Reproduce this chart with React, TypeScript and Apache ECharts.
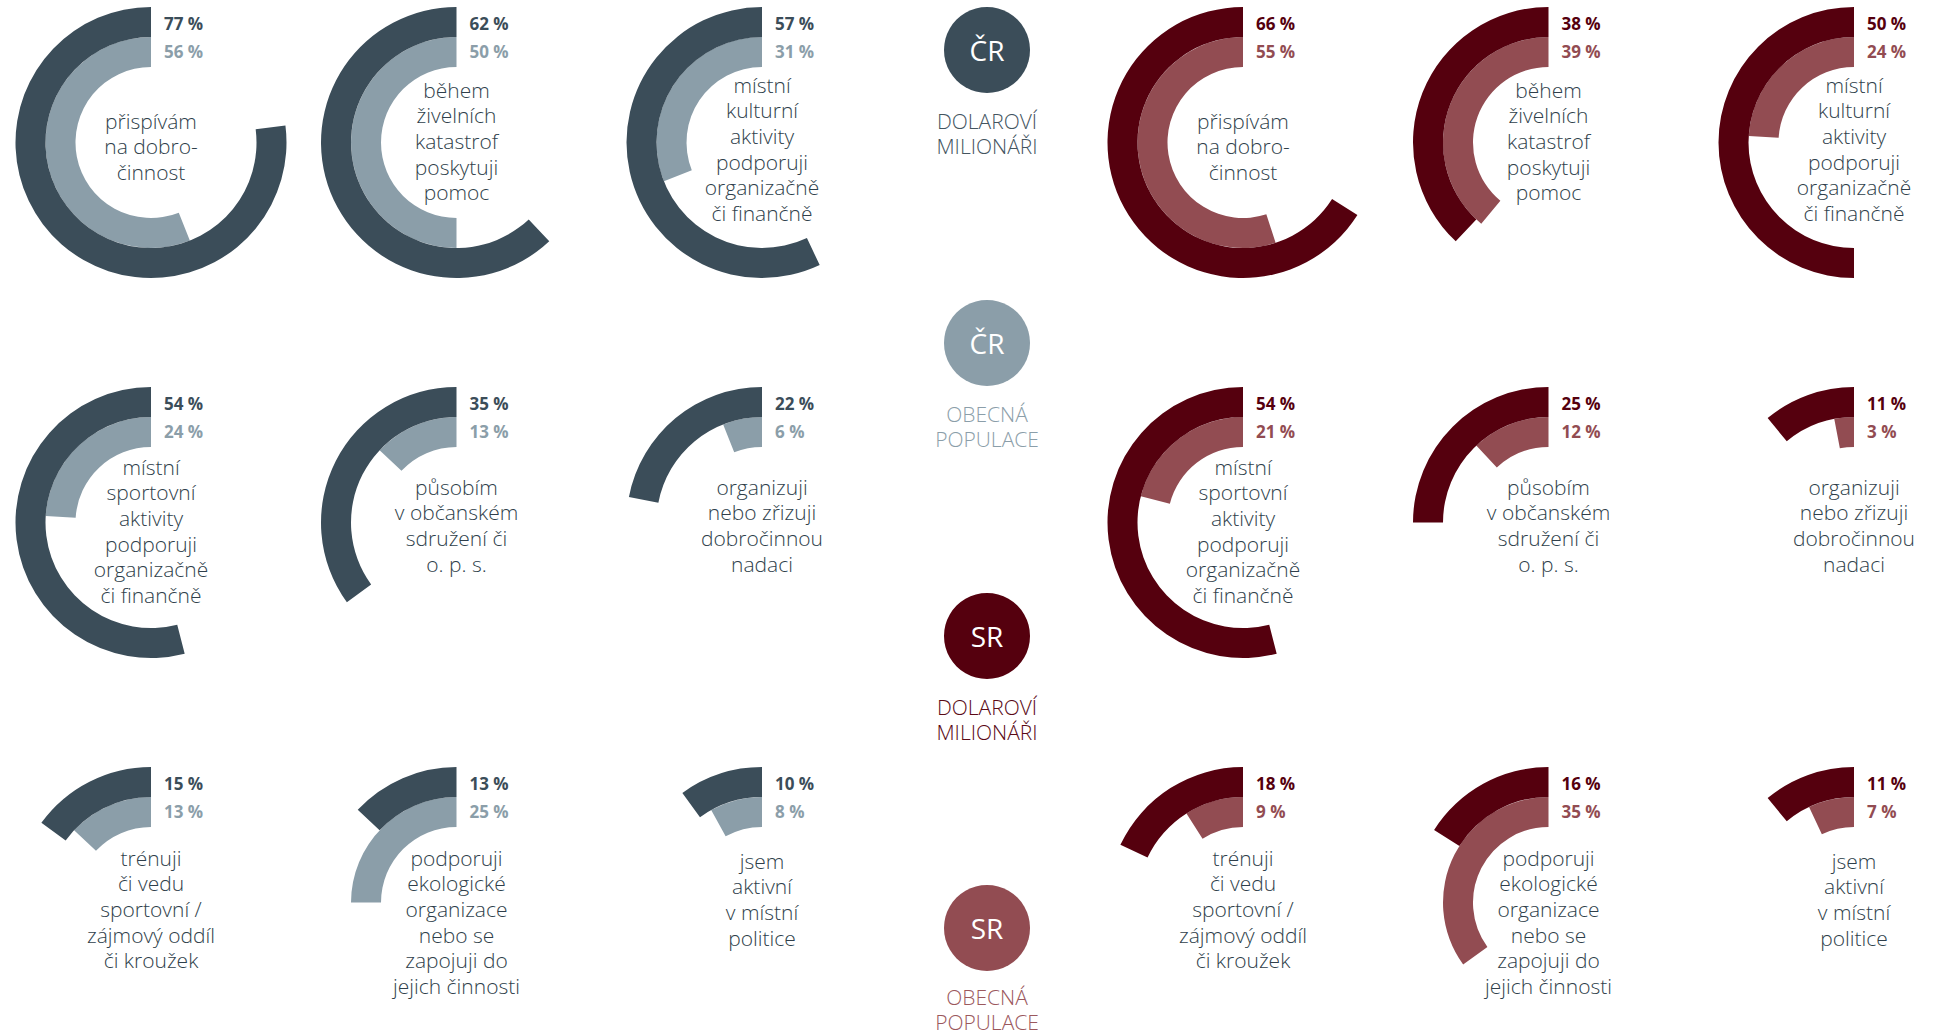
import React, { useEffect, useRef } from "react";
import * as echarts from "echarts";

// ---- data ----
const topics: string[][] = [
  ["přispívám", "na dobro-", "činnost"],
  ["během", "živelních", "katastrof", "poskytuji", "pomoc"],
  ["místní", "kulturní", "aktivity", "podporuji", "organizačně", "či finančně"],
  ["místní", "sportovní", "aktivity", "podporuji", "organizačně", "či finančně"],
  ["působím", "v občanském", "sdružení či", "o. p. s."],
  ["organizuji", "nebo zřizuji", "dobročinnou", "nadaci"],
  ["trénuji", "či vedu", "sportovní /", "zájmový oddíl", "či kroužek"],
  ["podporuji", "ekologické", "organizace", "nebo se", "zapojuji do", "jejich činnosti"],
  ["jsem", "aktivní", "v místní", "politice"],
];
const czMillionaires = [77, 62, 57, 54, 35, 22, 15, 13, 10];
const czGeneral = [56, 50, 31, 24, 13, 6, 13, 25, 8];
const skMillionaires = [66, 38, 50, 54, 25, 11, 18, 16, 11];
const skGeneral = [55, 39, 24, 21, 12, 3, 9, 35, 7];
const ringCategories = ["obecná populace", "dolaroví milionáři"];
const legendCodes = ["ČR", "ČR", "SR", "SR"];
const legendNames = [
  ["DOLAROVÍ", "MILIONÁŘI"],
  ["OBECNÁ", "POPULACE"],
  ["DOLAROVÍ", "MILIONÁŘI"],
  ["OBECNÁ", "POPULACE"],
];

// ---- layout / style ----
const W = 1937;
const H = 1036;
const leftX = [151, 456.5, 762];
const rightX = [1243, 1548.5, 1854];
const rowY = [142.5, 522.5, 902.5];
const R_IN = 75.5;
const R_OUT = 135.5;
const firstLineOffset = [-22, -53, -58, -56, -36, -36, -45, -45, -42];
const LINE_H = 25.7;
const CZ = { dark: "#3b4d59", light: "#8b9ea9" };
const SK = { dark: "#55000e", light: "#924c52" };
const legendFill = ["#3b4d59", "#8b9ea9", "#55000e", "#924c52"];
const legendText = ["#44555f", "#8b9ea9", "#5a0a16", "#9b585d"];
const legendX = 987;
const legendY = [50, 343, 636, 928];
const legendNameTop = [71, 71, 71, 69];
const legendNameGap = 25;
const TEXT_COLOR = "#2f3f4b";
const FONT = '"Open Sans", "Noto Sans", sans-serif';

export default function App() {
  const ref = useRef<HTMLDivElement>(null);
  useEffect(() => {
    document.body.style.margin = "0";
    document.body.style.overflow = "hidden";
    const chart = echarts.init(ref.current!, null, { renderer: "svg" });

    const polar: any[] = [];
    const angleAxis: any[] = [];
    const radiusAxis: any[] = [];
    const series: any[] = [];
    const graphic: any[] = [];

    const sides = [
      { xs: leftX, mil: czMillionaires, gen: czGeneral, col: CZ },
      { xs: rightX, mil: skMillionaires, gen: skGeneral, col: SK },
    ];
    sides.forEach((side) => {
      topics.forEach((lines, i) => {
        const cx = side.xs[i % 3];
        const cy = rowY[Math.floor(i / 3)];
        const idx = polar.length;
        polar.push({ center: [cx, cy], radius: [R_IN, R_OUT] });
        angleAxis.push({
          polarIndex: idx,
          type: "value",
          min: 0,
          max: 100,
          startAngle: 90,
          clockwise: false,
          show: false,
        });
        radiusAxis.push({
          polarIndex: idx,
          type: "category",
          data: ringCategories,
          show: false,
        });
        series.push({
          type: "bar",
          coordinateSystem: "polar",
          polarIndex: idx,
          barCategoryGap: "0%",
          silent: true,
          data: [
            { value: side.gen[i], itemStyle: { color: side.col.light } },
            { value: side.mil[i], itemStyle: { color: side.col.dark } },
          ],
        });
        // percentage labels
        graphic.push({
          type: "text",
          x: cx + 13,
          y: cy - 119,
          style: {
            text: side.mil[i] + " %",
            fill: side.col.dark,
            font: `bold 17px ${FONT}`,
            textAlign: "left",
            textVerticalAlign: "middle",
          },
        });
        graphic.push({
          type: "text",
          x: cx + 13,
          y: cy - 91.5,
          style: {
            text: side.gen[i] + " %",
            fill: side.col.light,
            font: `bold 17px ${FONT}`,
            textAlign: "left",
            textVerticalAlign: "middle",
          },
        });
        lines.forEach((ln, k) => {
          graphic.push({
            type: "text",
            x: cx,
            y: cy + firstLineOffset[i] + k * LINE_H,
            style: {
              text: ln,
              fill: TEXT_COLOR,
              font: `300 21px ${FONT}`,
              textAlign: "center",
              textVerticalAlign: "middle",
            },
          });
        });
      });
    });

    legendCodes.forEach((code, j) => {
      graphic.push({
        type: "circle",
        shape: { cx: legendX, cy: legendY[j], r: 43 },
        style: { fill: legendFill[j] },
      });
      graphic.push({
        type: "text",
        x: legendX,
        y: legendY[j],
        style: {
          text: code,
          fill: "#ffffff",
          font: `28px ${FONT}`,
          textAlign: "center",
          textVerticalAlign: "middle",
        },
      });
      legendNames[j].forEach((nm, k) => {
        graphic.push({
          type: "text",
          x: legendX,
          y: legendY[j] + legendNameTop[j] + k * legendNameGap,
          style: {
            text: nm,
            fill: legendText[j],
            font: `300 21px ${FONT}`,
            textAlign: "center",
            textVerticalAlign: "middle",
          },
        });
      });
    });

    chart.setOption({
      animation: false,
      polar,
      angleAxis,
      radiusAxis,
      series,
      graphic: { elements: graphic },
    });
    return () => chart.dispose();
  }, []);
  return <div ref={ref} style={{ width: W, height: H }} />;
}
